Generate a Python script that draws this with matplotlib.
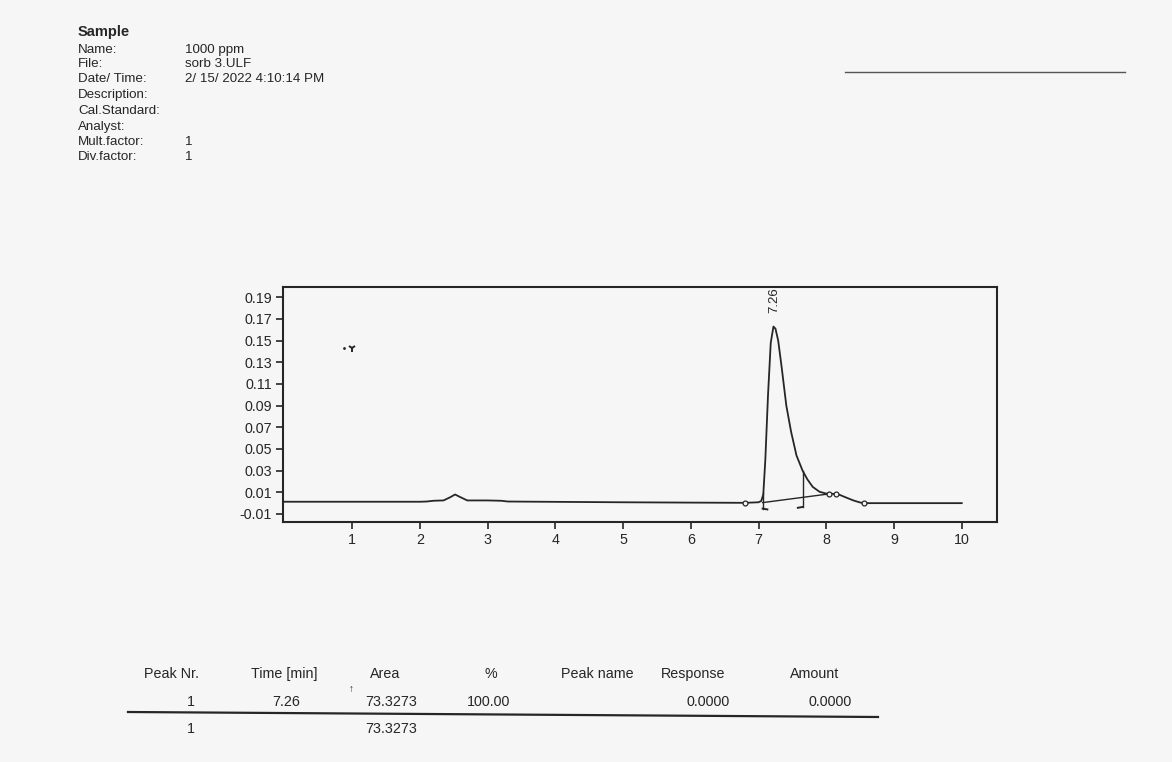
import matplotlib
matplotlib.use("Agg")
import matplotlib.pyplot as plt

# ---------------- data ----------------
header_labels = ["Name:", "File:", "Date/ Time:", "Description:", "Cal.Standard:",
                 "Analyst:", "Mult.factor:", "Div.factor:"]
header_values = ["1000 ppm", "sorb 3.ULF", "2/ 15/ 2022 4:10:14 PM", "", "", "", "1", "1"]

time_min = [0.0, 2.0, 2.1, 2.2, 2.35, 2.45, 2.52, 2.6, 2.7, 3.0, 3.2, 3.3, 4.0, 5.0,
            6.0, 6.8, 7.0, 7.04, 7.07, 7.1, 7.14, 7.18, 7.22, 7.25, 7.29, 7.34,
            7.41, 7.48, 7.56, 7.65, 7.72, 7.8, 7.9, 8.0, 8.1, 8.2, 8.3, 8.4, 8.5,
            8.55, 10.0]
signal = [0.0013, 0.0013, 0.0015, 0.0022, 0.0025, 0.0055, 0.0080, 0.0055, 0.0025,
          0.0025, 0.0022, 0.0015, 0.0012, 0.0008, 0.0005, 0.0003, 0.0008, 0.002,
          0.008, 0.04, 0.10, 0.148, 0.163, 0.161, 0.150, 0.126, 0.090, 0.066,
          0.044, 0.030, 0.022, 0.015, 0.0105, 0.0088, 0.0086, 0.0076, 0.005,
          0.0025, 0.0006, 0.0, 0.0]

baseline_t = [7.06, 8.05]
baseline_y = [0.0005, 0.0086]
drop_t = [7.06, 7.65]
drop_lo = [-0.005, -0.0035]
drop_hi = [0.009, 0.030]
marker_t = [6.8, 8.04, 8.14, 8.55]
marker_y = [0.0003, 0.0087, 0.0086, 0.0]
peak_time = 7.26
peak_label = "7.26"

y_ticks = [-0.01, 0.01, 0.03, 0.05, 0.07, 0.09, 0.11, 0.13, 0.15, 0.17, 0.19]
x_ticks = [1, 2, 3, 4, 5, 6, 7, 8, 9, 10]

table_headers = ["Peak Nr.", "Time [min]", "Area", "%", "Peak name", "Response", "Amount"]
table_row = ["1", "7.26", "73.3273", "100.00", "", "0.0000", "0.0000"]
table_total = ["1", "", "73.3273", "", "", "", ""]

# ---------------- figure ----------------
bg = "#f6f6f6"
ink = "#262626"
plt.rcParams['font.family'] = ['Liberation Sans', 'DejaVu Sans']
fig = plt.figure(figsize=(11.72, 7.62), dpi=100, facecolor=bg)

W, H = 1172.0, 762.0
def fx(px): return px / W
def fy(py): return 1 - py / H

# header
fig.text(fx(78), fy(32), "Sample", fontsize=10.5, fontweight="bold", color=ink, va="center")
ys = [50, 64, 79, 95, 111, 127, 142, 157]
for lab, val, y in zip(header_labels, header_values, ys):
    fig.text(fx(78), fy(y), lab, fontsize=9.6, color=ink, va="center")
    fig.text(fx(185), fy(y), val, fontsize=9.6, color=ink, va="center")

# printed rule top right
fig.add_artist(plt.Line2D([fx(845), fx(1125)], [fy(72), fy(72)], color="#555555", lw=1.0))

# axes
ax = fig.add_axes([fx(283), fy(522), fx(997) - fx(283), fy(287) - fy(522)])
ax.set_facecolor(bg)
ax.plot(time_min, signal, color=ink, lw=1.3)
ax.plot(baseline_t, baseline_y, color=ink, lw=1.0)
for t, lo, hi, d in zip(drop_t, drop_lo, drop_hi, [1, -1]):
    ax.plot([t, t], [lo, hi], color=ink, lw=1.0)
    ax.plot([t, t + d * 0.07], [lo, lo - 0.0008], color=ink, lw=1.4)
ax.plot(marker_t, marker_y, linestyle="none", marker="o", ms=3.5, mfc=bg, mec=ink, mew=0.9)
ax.text(peak_time - 0.03, 0.187, peak_label, rotation=90, ha="center", va="center",
        fontsize=9.5, color=ink)
# small mark near t=1
ax.plot([0.88], [0.1435], marker=".", ms=2, color=ink)
ax.plot([1.0], [0.1430], marker="1", ms=6, mew=1.4, color=ink)

ax.set_xlim(-0.02, 10.52)
ax.set_ylim(-0.0174, 0.1995)
ax.set_xticks(x_ticks)
ax.set_xticklabels([str(v) for v in x_ticks])
ax.set_yticks(y_ticks)
ax.set_yticklabels([f"{v:.2f}" for v in y_ticks])
ax.tick_params(axis="both", direction="out", length=5, width=1.2, colors=ink,
               labelsize=10.3, pad=3)
for s in ax.spines.values():
    s.set_color(ink)
    s.set_linewidth(1.5)

# table
fs = 10.3
hx = [172, 284, 385, 491, 597, 693, 815]
for h, x in zip(table_headers, hx):
    fig.text(fx(x), fy(674), h, fontsize=fs, color=ink, ha="center", va="center")
row_x = [195, 300, 417, 510, None, 730, 852]
for v, x in zip(table_row, row_x):
    if v and x is not None:
        fig.text(fx(x), fy(702), v, fontsize=fs, color=ink, ha="right", va="center")
fig.text(fx(351), fy(689), "↑", fontsize=7, color=ink, ha="center", va="center")
fig.add_artist(plt.Line2D([fx(128), fx(878)], [fy(712), fy(717)], color=ink, lw=1.6))
for v, x in zip(table_total, row_x):
    if v and x is not None:
        fig.text(fx(x), fy(729), v, fontsize=fs, color=ink, ha="right", va="center")

fig.savefig("out.png", dpi=100, facecolor=bg)
